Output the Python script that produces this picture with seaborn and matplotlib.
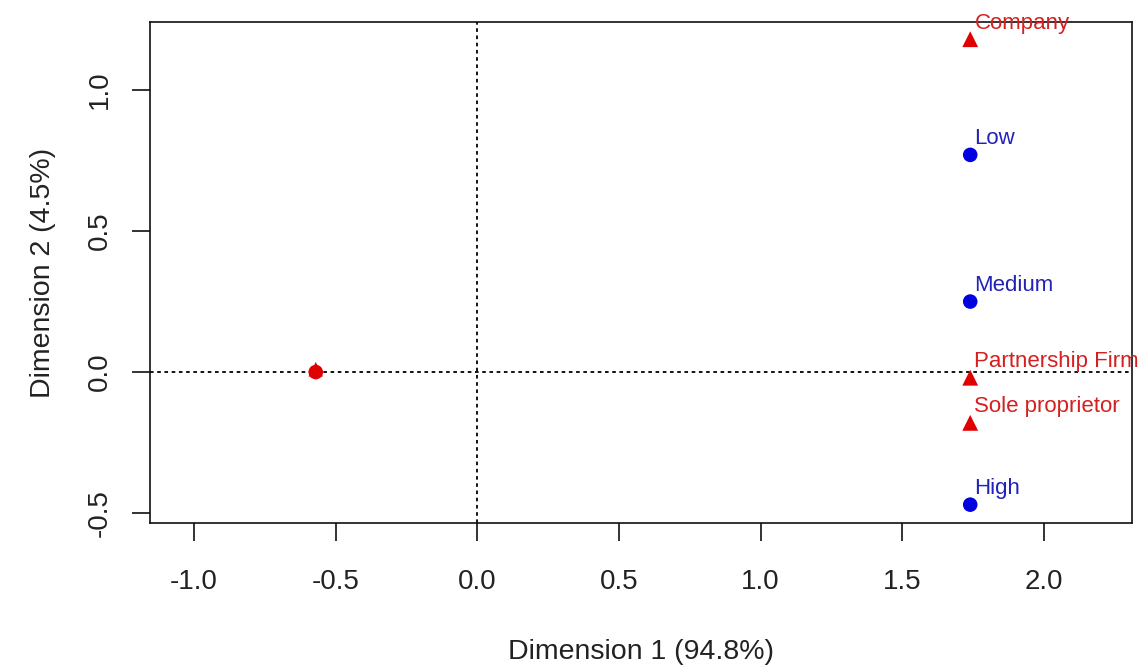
import pandas as pd
import matplotlib.pyplot as plt
import seaborn as sns

# row points (blue circles)
row_labels = ['Low', 'Medium', 'High']
row_dim1 = [1.74, 1.74, 1.74]
row_dim2 = [0.77, 0.25, -0.47]

# column points (red triangles)
col_labels = ['Company', 'Partnership Firm', 'Sole proprietor']
col_dim1 = [1.74, 1.74, 1.74]
col_dim2 = [1.18, -0.02, -0.18]

# unlabeled points sitting on top of each other
extra_dim1 = [-0.57, -0.57]
extra_dim2 = [0.0, 0.01]

x_ticks = [-1.0, -0.5, 0.0, 0.5, 1.0, 1.5, 2.0]
y_ticks = [-0.5, 0.0, 0.5, 1.0]

rows = pd.DataFrame({'d1': row_dim1, 'd2': row_dim2, 'lab': row_labels})
cols = pd.DataFrame({'d1': col_dim1, 'd2': col_dim2, 'lab': col_labels})

sns.set_style('white')
plt.rcParams['font.family'] = ['Liberation Sans', 'DejaVu Sans']

fig = plt.figure(figsize=(11.48, 6.71), dpi=100)
ax = fig.add_axes([150 / 1148, 1 - 523 / 671, (1132 - 150) / 1148, (523 - 22) / 671])

ax.axhline(0, color='black', ls=(0, (2, 2)), lw=1.3, zorder=1)
ax.axvline(0, color='black', ls=(0, (2, 2)), lw=1.3, zorder=1)

sns.scatterplot(data=rows, x='d1', y='d2', marker='o', color='#0000E0', s=110,
                edgecolor='none', ax=ax, zorder=3)
sns.scatterplot(data=cols, x='d1', y='d2', marker='^', color='#E00000', s=130,
                edgecolor='none', ax=ax, zorder=3)
sns.scatterplot(x=extra_dim1[:1], y=extra_dim2[:1], marker='o', color='#E00000', s=110,
                edgecolor='none', ax=ax, zorder=3)
sns.scatterplot(x=extra_dim1[1:], y=extra_dim2[1:], marker='^', color='#E00000', s=110,
                edgecolor='none', ax=ax, zorder=3)

for _, r in rows.iterrows():
    ax.annotate(r['lab'], (r['d1'], r['d2']), xytext=(3, 4), textcoords='offset points',
                ha='left', va='bottom', color='#2222BB', fontsize=16)
for _, r in cols.iterrows():
    ax.annotate(r['lab'], (r['d1'], r['d2']), xytext=(3, 4), textcoords='offset points',
                ha='left', va='bottom', color='#D42020', fontsize=16, annotation_clip=False)

ax.set_xlim(-1.155, 2.311)
ax.set_ylim(-0.535, 1.241)
ax.set_xticks(x_ticks)
ax.set_yticks(y_ticks)
ax.set_xticklabels([f'{v:.1f}' for v in x_ticks])
ax.set_yticklabels([f'{v:.1f}' for v in y_ticks], rotation=90, va='center')
ax.tick_params(axis='both', direction='out', length=13, width=1.2, color='#111111',
               labelsize=20, labelcolor='#222222', bottom=True, left=True)
ax.tick_params(axis='x', pad=20)
ax.tick_params(axis='y', pad=14)
for sp in ax.spines.values():
    sp.set_visible(True)
    sp.set_color('#111111')
    sp.set_linewidth(1.2)

ax.set_xlabel('Dimension 1 (94.8%)', fontsize=20.5, color='#222222', labelpad=32)
ax.set_ylabel('Dimension 2 (4.5%)', fontsize=20.5, color='#222222', labelpad=22)

fig.savefig('out.png', dpi=100)
